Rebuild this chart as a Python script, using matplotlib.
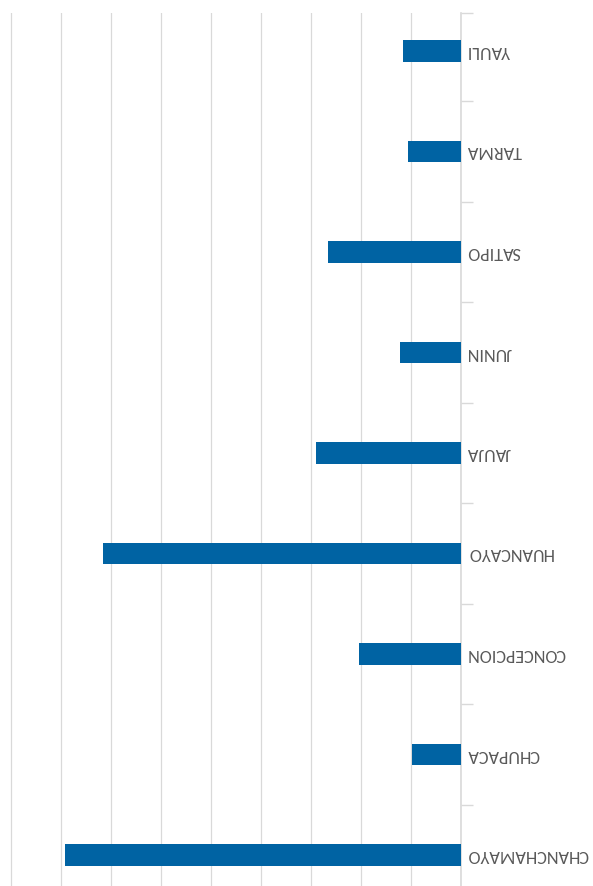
import numpy as np
import matplotlib.pyplot as plt

# provinces, top to bottom as shown (chart is upside-down)
provincias = ['YAULI', 'TARMA', 'SATIPO', 'JUNIN', 'JAUJA', 'HUANCAYO',
              'CONCEPCION', 'CHUPACA', 'CHANCHAMAYO']
valores = [1.15, 1.05, 2.65, 1.21, 2.89, 7.15, 2.03, 0.97, 7.91]

bar_color = '#0063A3'
grid_color = '#D9D9D9'
text_color = '#595959'

W, H = 593, 886
fig = plt.figure(figsize=(W / 100, H / 100), dpi=100)
ax = fig.add_axes([0, 0, 460.5 / W, (H - 13) / H])

y = np.arange(len(provincias))
ax.barh(y, valores, height=0.216, color=bar_color, zorder=3)

y_top = (13 - 51) / 100.5
y_bot = (H - 51) / 100.5
ax.set_ylim(y_bot, y_top)
ax.set_xlim(460.5 / 50, 0)

ax.set_xticks(np.arange(0, 10))
ax.xaxis.grid(True, color=grid_color, linewidth=0.9)
ax.tick_params(axis='x', bottom=False, labelbottom=False)
ax.set_axisbelow(True)

ax.yaxis.tick_right()
ax.set_yticks(y)
ax.set_yticklabels(provincias, rotation=180, va='center', ha='left',
                   color=text_color, fontsize=13.1,
                   family=['Carlito', 'DejaVu Sans'])
ax.tick_params(axis='y', which='major', length=0, pad=4.5)
ax.set_yticks(np.concatenate([[y_top], np.arange(0.5, 8.5, 1)]), minor=True)
ax.tick_params(axis='y', which='minor', length=8.5, width=1,
               color=grid_color, direction='out', right=True, left=False)

for s in ['left', 'top', 'bottom']:
    ax.spines[s].set_visible(False)
ax.spines['right'].set_color(grid_color)
ax.spines['right'].set_linewidth(1.2)

fig.savefig('out.png', dpi=100)
